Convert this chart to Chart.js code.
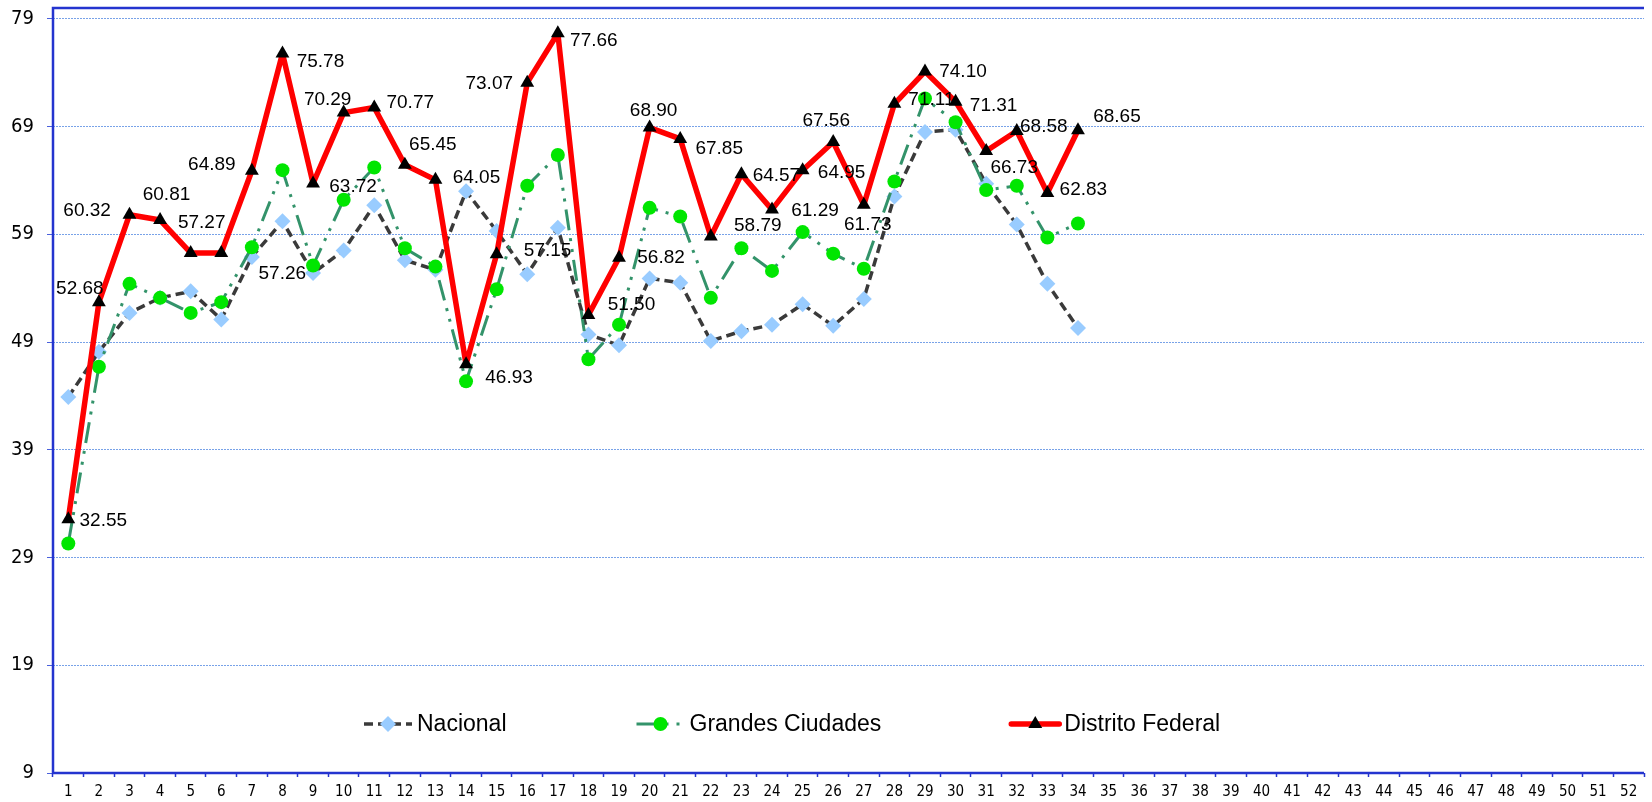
<!DOCTYPE html>
<html>
<head>
<meta charset="utf-8">
<style>
  html, body { margin: 0; padding: 0; background: #fff; }
  #wrap { width: 1652px; height: 802px; }
</style>
</head>
<body>
<div id="wrap"><canvas id="myChart" width="1652" height="802"></canvas></div>

<script src="https://cdn.jsdelivr.net/npm/chart.js@4.4.0/dist/chart.umd.min.js"></script>

<script>
// categories (weeks 1..52) and y ticks
const weeks = ['1','2','3','4','5','6','7','8','9','10','11','12','13','14','15','16','17','18','19','20',
  '21','22','23','24','25','26','27','28','29','30','31','32','33','34','35','36','37','38','39','40',
  '41','42','43','44','45','46','47','48','49','50','51','52'];
const yTicks = [9, 19, 29, 39, 49, 59, 69, 79];

// series values
const nacional = [43.9, 48.1, 51.7, 53.1, 53.7, 51.1, 56.9, 60.2, 55.4, 57.5, 61.7, 56.6, 55.7, 63.0, 59.3, 55.3, 59.6,
  49.7, 48.7, 54.9, 54.5, 49.1, 50.0, 50.6, 52.5, 50.5, 53.0, 62.5, 68.5, 68.7, 63.7, 59.9, 54.4, 50.3];
const grandesCiudades = [30.3, 46.7, 54.4, 53.1, 51.7, 52.7, 57.8, 64.95, 56.1, 62.2, 65.2, 57.7, 56.0, 45.35, 53.9, 63.5, 66.35,
  47.4, 50.6, 61.45, 60.65, 53.1, 57.7, 55.6, 59.2, 57.2, 55.8, 63.9, 71.6, 69.4, 63.1, 63.5, 58.7, 60.0];
const distritoFederal = [32.55, 52.68, 60.81, 60.32, 57.27, 57.26, 64.89, 75.78, 63.72, 70.29, 70.77, 65.45, 64.05, 46.93, 57.15, 73.07, 77.66,
  51.50, 56.82, 68.90, 67.85, 58.79, 64.57, 61.29, 64.95, 67.56, 61.73, 71.11, 74.10, 71.31, 66.73, 68.58, 62.83, 68.65];

// where each Distrito Federal value label sits, relative to its point (px)
const dfLabelOffsets = [[35,2],[-19,-14],[37,-20],[-73,-9],[11,-30],[61,21],[-40,-6],[38,8],[40,3],[-16,-13],
  [36,-5],[28,-20],[41,-2],[43,13],[51,-3],[-38,1],[36,8],[43,-10],[42,0],[4,-17],
  [39,10],[47,-11],[35,2],[43,1],[39,3],[-7,-21],[4,20],[37,-4],[38,0],[38,4],
  [28,17],[27,-4],[36,-3],[39,-14]];

const AXIS_BLUE = '#2434cf';
const GRID_BLUE = '#78a2e8';

// blue frame: top, left and bottom lines of the plot area
const framePlugin = {
  id: 'frame',
  beforeDatasetsDraw(chart) {
    const {ctx, chartArea: a} = chart;
    ctx.save();
    ctx.strokeStyle = AXIS_BLUE;
    ctx.lineWidth = 2.5;
    ctx.beginPath();
    ctx.moveTo(a.right, a.top);
    ctx.lineTo(a.left, a.top);
    ctx.lineTo(a.left, a.bottom);
    ctx.lineTo(a.right, a.bottom);
    ctx.stroke();
    ctx.restore();
  }
};

// value labels on the Distrito Federal series
const valueLabels = {
  id: 'valueLabels',
  afterDatasetsDraw(chart) {
    const ctx = chart.ctx;
    const idx = chart.data.datasets.findIndex(d => d.label === 'Distrito Federal');
    const meta = chart.getDatasetMeta(idx);
    ctx.save();
    ctx.font = '19px "Liberation Sans", Arial, sans-serif';
    ctx.fillStyle = '#000';
    ctx.textAlign = 'center';
    ctx.textBaseline = 'middle';
    meta.data.forEach((pt, i) => {
      const off = dfLabelOffsets[i] || [35, 0];
      ctx.fillText(distritoFederal[i].toFixed(2), pt.x + off[0], pt.y + off[1]);
    });
    ctx.restore();
  }
};

function drawMarker(ctx, style, x, y, r, color) {
  ctx.fillStyle = color;
  ctx.beginPath();
  if (style === 'rectRot') {
    ctx.moveTo(x, y - r); ctx.lineTo(x + r, y); ctx.lineTo(x, y + r); ctx.lineTo(x - r, y);
  } else if (style === 'triangle') {
    ctx.moveTo(x, y - r); ctx.lineTo(x + r * 0.866, y + r / 2); ctx.lineTo(x - r * 0.866, y + r / 2);
  } else {
    ctx.arc(x, y, r, 0, Math.PI * 2);
  }
  ctx.closePath();
  ctx.fill();
}

// legend drawn inside the plot, as in the original
const innerLegend = {
  id: 'innerLegend',
  afterDraw(chart) {
    const ctx = chart.ctx;
    const y = 724;
    let x = 364;
    ctx.save();
    ctx.font = '23px "Liberation Sans", Arial, sans-serif';
    ctx.textBaseline = 'middle';
    ctx.textAlign = 'left';
    chart.data.datasets.forEach(ds => {
      ctx.save();
      ctx.strokeStyle = ds.borderColor;
      ctx.lineWidth = ds.borderWidth;
      ctx.lineCap = ds.label === 'Distrito Federal' ? 'round' : 'butt';
      ctx.setLineDash(ds.borderDash || []);
      ctx.beginPath();
      ctx.moveTo(x, y);
      ctx.lineTo(x + 48, y);
      ctx.stroke();
      ctx.restore();
      drawMarker(ctx, ds.pointStyle, x + 24, y, ds.pointRadius, ds.pointBackgroundColor);
      ctx.fillStyle = '#000';
      ctx.fillText(ds.label, x + 53, y + 1);
      x += 53 + ctx.measureText(ds.label).width + 130;
    });
    ctx.restore();
  }
};

const ctx = document.getElementById('myChart');

let chart = new Chart(ctx, {
  type: 'line',
  data: {
    labels: weeks,
    datasets: [{
      label: 'Nacional',
      data: nacional,
      order: 3,
      borderColor: '#3a3a3a',
      borderWidth: 3.5,
      borderDash: [9, 5],
      pointStyle: 'rectRot',
      pointRadius: 8,
      pointBackgroundColor: '#99ccff',
      pointBorderColor: '#99ccff',
      pointBorderWidth: 0,
      tension: 0
    }, {
      label: 'Grandes Ciudades',
      data: grandesCiudades,
      order: 2,
      borderColor: '#33936a',
      borderWidth: 3,
      borderDash: [21, 8, 3, 8, 3, 8],
      pointStyle: 'circle',
      pointRadius: 7,
      pointBackgroundColor: '#00e600',
      pointBorderColor: '#00e600',
      pointBorderWidth: 0,
      tension: 0
    }, {
      label: 'Distrito Federal',
      data: distritoFederal,
      order: 1,
      borderColor: '#ff0000',
      borderWidth: 5.5,
      borderJoinStyle: 'round',
      pointStyle: 'triangle',
      pointRadius: 8,
      pointBackgroundColor: '#000000',
      pointBorderColor: '#000000',
      pointBorderWidth: 0,
      tension: 0
    }]
  },
  options: {
    responsive: false,
    animation: false,
    layout: { padding: { top: 6, right: 0, left: 0, bottom: 0 } },
    plugins: {
      legend: { display: false },
      tooltip: { enabled: false }
    },
    scales: {
      x: {
        offset: true,
        grid: {
          offset: true,
          drawOnChartArea: false,
          drawTicks: true,
          tickLength: 4,
          tickColor: AXIS_BLUE,
          tickWidth: 1.5
        },
        border: { display: false },
        ticks: {
          autoSkip: false,
          maxRotation: 0,
          padding: 6,
          color: '#000',
          font: { family: 'DejaVu Sans Condensed', size: 15 }
        },
        afterFit(scale) { scale.height = 29; scale.paddingLeft = 0; scale.paddingRight = 0; }
      },
      y: {
        min: 9,
        max: 80,
        afterBuildTicks(scale) { scale.ticks = yTicks.map(v => ({ value: v })); },
        grid: {
          color: GRID_BLUE,
          lineWidth: 1,
          tickLength: 6,
          tickColor: '#4a60dc',
          tickBorderDash: []
        },
        border: { display: false, dash: [2, 1] },
        ticks: {
          padding: 13,
          color: '#000',
          font: { family: 'DejaVu Sans Condensed', size: 20 }
        },
        afterFit(scale) { scale.width = 53; scale.paddingTop = 0; scale.paddingBottom = 0; }
      }
    }
  },
  plugins: [framePlugin, valueLabels, innerLegend]
});
</script>
</body>
</html>
